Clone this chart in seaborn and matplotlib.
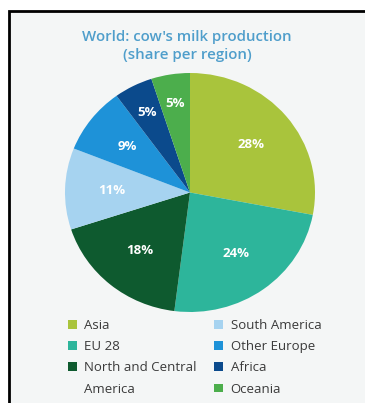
import matplotlib
matplotlib.use("Agg")
import matplotlib.pyplot as plt
import seaborn as sns
from matplotlib.patches import Patch, Rectangle

# data
regions = ["Asia", "EU 28", "North and Central America", "South America",
           "Other Europe", "Africa", "Oceania"]
shares = [28, 24, 18, 11, 9, 5, 5]
colors = ["#a9c43c", "#2db59b", "#0e5a2f", "#a6d3f0", "#1e92d8", "#0b4a8c", "#4cae4c"]

sns.set_theme(style="white")
plt.rcParams['font.family'] = ['Open Sans', 'DejaVu Sans']

fig = plt.figure(figsize=(3.65, 4.03), dpi=100)
fig.patch.set_facecolor("white")

# grey panel with black frame (cropped at right and bottom)
fig.patches.append(Rectangle((9 / 365, -0.1), 1.2, 0.1 + (403 - 11) / 403,
                             transform=fig.transFigure, facecolor="#f4f6f6",
                             edgecolor="black", lw=2, zorder=-5))

fig.text(187 / 365, 1 - 46 / 403, "World: cow's milk production\n(share per region)",
         ha="center", va="center", fontsize=10.8, color="#4f9ecb", fontweight="semibold",
         linespacing=1.38)

# the source pie is slightly stretched horizontally
ax = fig.add_axes([(190 - 125) / 365, (403 - 312) / 403, 250 / 365, 239 / 403])
wedges, texts, autotexts = ax.pie(shares, colors=colors, startangle=90, counterclock=False,
                                  autopct="%d%%", pctdistance=0.63,
                                  wedgeprops=dict(linewidth=0),
                                  textprops=dict(color="white", fontsize=9.5, fontweight="bold"))
# push the small slices' labels further out
for t, s in zip(autotexts, shares):
    if s <= 5:
        x, y = t.get_position()
        t.set_position((x * 1.2, y * 1.2))
ax.set_xlim(-1, 1)
ax.set_ylim(-1, 1)
ax.set_aspect("auto")
ax.axis("off")

# legend: wrap the long label onto a second row without a marker
handles = [Patch(facecolor=c, edgecolor="none") for c in colors]
first, rest = regions[2].rsplit(" ", 1)
leg_handles = handles[:3] + [Patch(facecolor="none", edgecolor="none")] + handles[3:]
leg_labels = regions[:2] + [first, rest] + regions[3:]
fig.legend(leg_handles, leg_labels, ncol=2, frameon=False, fontsize=9.5,
           handlelength=0.65, handleheight=0.65, handletextpad=0.6,
           labelspacing=0.62, columnspacing=1.3, labelcolor="#3a3a3a",
           loc="upper left", borderaxespad=0, borderpad=0,
           bbox_to_anchor=(68 / 365, 1 - 319 / 403))

fig.savefig("out.png", dpi=100)
